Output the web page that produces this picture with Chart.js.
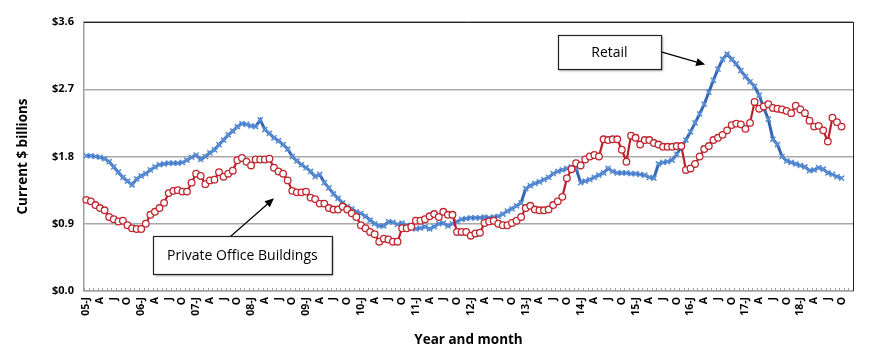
<!DOCTYPE html>
<html>
<head>
<meta charset="utf-8">
<script src="https://cdn.jsdelivr.net/npm/chart.js@4.4.1/dist/chart.umd.min.js"></script>
<style>
  html, body { margin: 0; padding: 0; background: #fff; }
  #wrap { width: 870px; height: 363px; }
</style>
</head>
<body>
<div id="wrap"><canvas id="myChart" width="870" height="363"></canvas></div>
<script>
// years on the axis, one block of 12 months each (data runs Jan 2005 - Oct 2018)
const years = ['05', '06', '07', '08', '09', '10', '11', '12', '13', '14', '15', '16', '17', '18'];
const monthLetters = ['J', 'F', 'M', 'A', 'M', 'J', 'J', 'A', 'S', 'O', 'N', 'D'];
const yTicks = [0, 0.9, 1.8, 2.7, 3.6];

// Retail, current $ billions, monthly
const retail = [
  1.81, 1.81, 1.80, 1.79, 1.77, 1.73, 1.66, 1.59, 1.52, 1.47, 1.42, 1.50,
  1.54, 1.57, 1.62, 1.66, 1.69, 1.70, 1.71, 1.71, 1.71, 1.72, 1.75, 1.79,
  1.82, 1.76, 1.80, 1.85, 1.89, 1.96, 2.02, 2.09, 2.14, 2.20, 2.24, 2.23,
  2.21, 2.20, 2.29, 2.16, 2.11, 2.05, 2.01, 1.96, 1.90, 1.80, 1.74, 1.69,
  1.65, 1.60, 1.53, 1.56, 1.45, 1.38, 1.30, 1.24, 1.18, 1.13, 1.10, 1.06,
  1.04, 1.00, 0.95, 0.90, 0.87, 0.87, 0.93, 0.92, 0.89, 0.91, 0.88, 0.85,
  0.83, 0.84, 0.86, 0.83, 0.86, 0.90, 0.91, 0.87, 0.90, 0.93, 0.96, 0.97,
  0.98, 0.98, 0.98, 0.99, 0.98, 0.99, 1.00, 1.03, 1.07, 1.10, 1.14, 1.18,
  1.37, 1.41, 1.44, 1.46, 1.49, 1.52, 1.57, 1.60, 1.62, 1.64, 1.66, 1.64,
  1.45, 1.47, 1.49, 1.52, 1.55, 1.58, 1.64, 1.60, 1.58, 1.58, 1.58, 1.57,
  1.57, 1.56, 1.55, 1.52, 1.51, 1.70, 1.72, 1.73, 1.75, 1.83, 1.93, 2.02,
  2.13, 2.25, 2.37, 2.50, 2.66, 2.82, 2.97, 3.10, 3.17, 3.10, 3.04, 2.95,
  2.87, 2.80, 2.74, 2.62, 2.45, 2.30, 2.03, 1.96, 1.80, 1.74, 1.72, 1.70,
  1.68, 1.66, 1.61, 1.62, 1.65, 1.63, 1.58, 1.56, 1.53, 1.51
];

// Private Office Buildings, current $ billions, monthly
const office = [
  1.22, 1.20, 1.15, 1.11, 1.08, 0.99, 0.96, 0.93, 0.94, 0.88, 0.84, 0.83,
  0.83, 0.90, 1.02, 1.06, 1.11, 1.18, 1.31, 1.34, 1.35, 1.33, 1.33, 1.45,
  1.57, 1.54, 1.43, 1.48, 1.49, 1.59, 1.53, 1.57, 1.61, 1.75, 1.78, 1.73,
  1.68, 1.76, 1.76, 1.76, 1.77, 1.65, 1.60, 1.57, 1.48, 1.34, 1.32, 1.32,
  1.33, 1.25, 1.23, 1.17, 1.17, 1.11, 1.09, 1.09, 1.13, 1.09, 1.04, 0.99,
  0.88, 0.84, 0.79, 0.76, 0.66, 0.70, 0.69, 0.66, 0.66, 0.84, 0.84, 0.86,
  0.94, 0.94, 0.96, 1.00, 1.03, 0.99, 1.06, 1.02, 1.02, 0.79, 0.79, 0.79,
  0.74, 0.77, 0.78, 0.91, 0.93, 0.94, 0.90, 0.88, 0.88, 0.91, 0.94, 0.99,
  1.11, 1.14, 1.09, 1.08, 1.08, 1.09, 1.15, 1.20, 1.26, 1.51, 1.63, 1.71,
  1.68, 1.76, 1.80, 1.82, 1.80, 2.03, 2.02, 2.03, 2.03, 1.89, 1.73, 2.08,
  2.05, 1.96, 2.02, 2.02, 1.98, 1.96, 1.93, 1.93, 1.93, 1.94, 1.94, 1.62,
  1.64, 1.70, 1.80, 1.90, 1.94, 2.02, 2.05, 2.09, 2.15, 2.22, 2.24, 2.23,
  2.17, 2.25, 2.53, 2.44, 2.47, 2.50, 2.45, 2.44, 2.43, 2.41, 2.38, 2.48,
  2.43, 2.38, 2.28, 2.20, 2.21, 2.15, 2.00, 2.32, 2.26, 2.20
];

// month labels, "05-J" for January, single letters otherwise
let labels = [];
years.forEach(yy => {
  monthLetters.forEach((m, i) => labels.push(i === 0 ? yy + '-' + m : m));
});

// callout boxes, in axis units (category index, $ value)
const callouts = [
  { text: 'Retail', x0: 103, x1: 125.6, y0: 3.43, y1: 2.97, from: [125.6, 3.20], to: [135.2, 3.03] },
  { text: 'Private Office Buildings', x0: 14.6, x1: 53.6, y0: 0.73, y1: 0.22, from: [31.5, 0.73], to: [41.0, 1.24] }
];

const FONT = "'Open Sans', 'DejaVu Sans', sans-serif";

const framePlugin = {
  id: 'frame',
  beforeDatasetsDraw(chart) {
    const { ctx, chartArea: a } = chart;
    const n = chart.data.labels.length;
    const step = (a.right - a.left) / n;
    ctx.save();
    ctx.strokeStyle = '#a0a0a0';
    ctx.lineWidth = 1;
    ctx.beginPath();
    for (let i = 0; i <= n; i++) {
      const x = Math.round(a.left + i * step) + 0.5;
      ctx.moveTo(x, a.bottom);
      ctx.lineTo(x, a.bottom - 3);
    }
    ctx.stroke();
    // dark top and right edges of the plot area
    ctx.strokeStyle = '#222';
    ctx.beginPath();
    ctx.moveTo(a.left, Math.round(a.top) + 0.5);
    ctx.lineTo(a.right, Math.round(a.top) + 0.5);
    ctx.moveTo(Math.round(a.right) + 0.5, a.top);
    ctx.lineTo(Math.round(a.right) + 0.5, a.bottom);
    ctx.stroke();
    ctx.restore();
  },
  afterDraw(chart) {
    const { ctx } = chart;
    const xs = chart.scales.x, ys = chart.scales.y;
    ctx.save();
    callouts.forEach(c => {
      const l = xs.getPixelForValue(c.x0), r = xs.getPixelForValue(c.x1);
      const t = ys.getPixelForValue(c.y0), b = ys.getPixelForValue(c.y1);
      // arrow
      const fx = xs.getPixelForValue(c.from[0]), fy = ys.getPixelForValue(c.from[1]);
      const tx = xs.getPixelForValue(c.to[0]), ty = ys.getPixelForValue(c.to[1]);
      const ang = Math.atan2(ty - fy, tx - fx);
      ctx.strokeStyle = '#000';
      ctx.fillStyle = '#000';
      ctx.lineWidth = 1.2;
      ctx.beginPath();
      ctx.moveTo(fx, fy);
      ctx.lineTo(tx - 7 * Math.cos(ang), ty - 7 * Math.sin(ang));
      ctx.stroke();
      ctx.beginPath();
      ctx.moveTo(tx, ty);
      ctx.lineTo(tx - 9 * Math.cos(ang) + 4 * Math.sin(ang), ty - 9 * Math.sin(ang) - 4 * Math.cos(ang));
      ctx.lineTo(tx - 9 * Math.cos(ang) - 4 * Math.sin(ang), ty - 9 * Math.sin(ang) + 4 * Math.cos(ang));
      ctx.closePath();
      ctx.fill();
      // box
      ctx.save();
      ctx.shadowColor = 'rgba(0,0,0,0.35)';
      ctx.shadowOffsetX = 1.5;
      ctx.shadowOffsetY = 1.5;
      ctx.shadowBlur = 2;
      ctx.fillStyle = '#fff';
      ctx.fillRect(l, t, r - l, b - t);
      ctx.restore();
      ctx.strokeStyle = '#222';
      ctx.lineWidth = 1.2;
      ctx.strokeRect(Math.round(l) + 0.5, Math.round(t) + 0.5, Math.round(r - l), Math.round(b - t));
      ctx.fillStyle = '#000';
      ctx.font = '14px ' + FONT;
      ctx.textAlign = 'center';
      ctx.textBaseline = 'middle';
      ctx.fillText(c.text, (l + r) / 2, (t + b) / 2 + 1);
    });
    ctx.restore();
  }
};

new Chart(document.getElementById('myChart').getContext('2d'), {
  type: 'line',
  data: {
    labels: labels,
    datasets: [
      {
        label: 'Private Office Buildings',
        data: office,
        order: 0,
        borderColor: '#b8202d',
        borderWidth: 2.2,
        pointStyle: 'circle',
        pointRadius: 3.3,
        pointBorderWidth: 1.3,
        pointBorderColor: '#c0272f',
        pointBackgroundColor: '#fff',
        tension: 0
      },
      {
        label: 'Retail',
        data: retail,
        order: 1,
        borderColor: '#3566b0',
        borderWidth: 3,
        pointStyle: 'crossRot',
        pointRadius: 3.6,
        pointBorderWidth: 1.6,
        pointBorderColor: '#5a8fd8',
        tension: 0
      }
    ]
  },
  options: {
    responsive: false,
    animation: false,
    devicePixelRatio: 1,
    layout: { padding: { top: 22, right: 17, left: 0, bottom: 0 } },
    plugins: {
      legend: { display: false },
      tooltip: { enabled: false }
    },
    scales: {
      x: {
        type: 'category',
        offset: true,
        grid: { display: false, drawTicks: false },
        border: { display: true, color: '#a0a0a0', width: 1.5 },
        ticks: {
          autoSkip: false,
          minRotation: 90,
          maxRotation: 90,
          padding: 6,
          color: '#000',
          font: { family: FONT, size: 10.5, weight: 'bold' },
          callback: function (val, idx) {
            return idx % 3 === 0 ? this.getLabelForValue(val) : '';
          }
        },
        title: {
          display: true,
          text: 'Year and month',
          color: '#000',
          font: { family: FONT, size: 13.5, weight: 'bold' },
          padding: { top: 0, bottom: 15 }
        },
        afterFit: s => { s.height = 72; }
      },
      y: {
        min: 0,
        max: 3.6,
        afterBuildTicks: s => { s.ticks = yTicks.map(v => ({ value: v })); },
        grid: { color: '#a8a8a8', lineWidth: 1.5, drawTicks: false },
        border: { display: true, color: '#a0a0a0', width: 1.5 },
        ticks: {
          padding: 10,
          color: '#000',
          font: { family: FONT, size: 11, weight: 'bold' },
          callback: v => '$' + v.toFixed(1)
        },
        title: {
          display: true,
          text: 'Current $ billions',
          color: '#000',
          font: { family: FONT, size: 13.5, weight: 'bold' },
          padding: { top: 15, bottom: 0 }
        },
        afterFit: s => { s.width = 84; }
      }
    }
  },
  plugins: [framePlugin]
});
</script>
</body>
</html>
